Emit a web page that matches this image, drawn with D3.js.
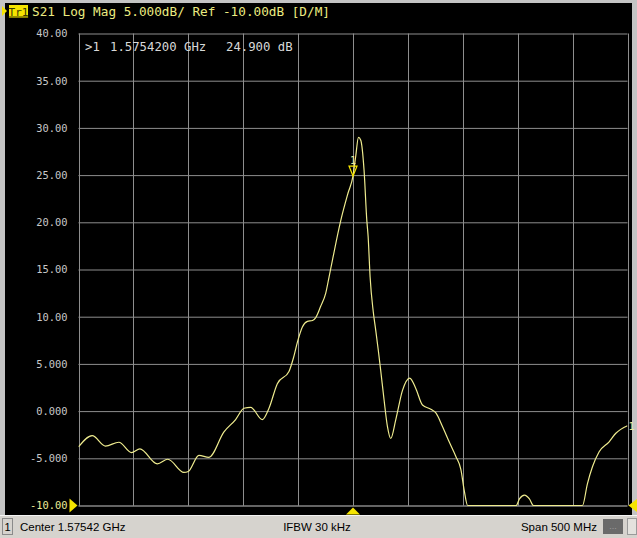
<!DOCTYPE html>
<html>
<head>
<meta charset="utf-8">
<script src="https://cdn.jsdelivr.net/npm/d3@7"></script>
<style>
  html, body { margin: 0; padding: 0; background: #c8c8c8; }
  #chart-area { width: 637px; height: 538px; }
</style>
</head>
<body>
<div id="chart-area"></div>
<script>
// trace S21 : frequency (MHz) / magnitude (dB)
const freqs = [1325.4, 1337.9, 1350.0, 1362.2, 1373.7, 1381.3, 1397.2, 1406.8, 1421.4, 1425.4,
    1435.1, 1444.2, 1457.9, 1468.5, 1476.1, 1482.2, 1492.9, 1498.9, 1506.5, 1517.1,
    1521.1, 1524.8, 1529.3, 1533.9, 1538.5, 1541.5, 1546.0, 1550.6, 1553.6, 1556.7,
    1564.3, 1570.9, 1575.4, 1577.9, 1580.4, 1582.5, 1585.5, 1588.0, 1589.2, 1591.0,
    1593.9, 1596.2, 1598.4, 1600.6, 1603.7, 1606.8, 1609.8, 1614.4, 1620.5, 1627.1,
    1632.6, 1638.7, 1646.3, 1650.9, 1657.0, 1663.0, 1669.1, 1673.7, 1676.7, 1679.8,
    1700.0, 1724.0, 1727.0, 1731.6, 1736.1, 1739.8, 1760.0, 1784.4, 1788.9, 1793.5,
    1799.6, 1808.7, 1814.8, 1825.4];
const s21 = [-3.8, -2.6, -3.7, -3.3, -4.4, -4.0, -5.6, -5.1, -6.5, -6.4,
    -4.7, -4.9, -2.2, -0.9, 0.3, 0.4, -0.9, 0.3, 2.9, 4.2,
    5.6, 7.3, 8.9, 9.5, 9.6, 9.9, 11.1, 12.5, 14.2, 16.0,
    20.2, 23.1, 24.9, 27.0, 29.0, 28.7, 25.5, 20.2, 18.5, 14.2,
    10.5, 8.5, 6.5, 4.35, 1.2, -1.65, -2.9, -0.9, 2.2, 3.5,
    2.4, 0.65, 0.2, -0.2, -1.65, -3.25, -4.8, -6.2, -8.4, -10.0,
    -10.0, -10.0, -9.3, -8.9, -9.3, -10.0, -10.0, -10.0, -7.7, -5.9,
    -4.3, -3.25, -2.35, -1.55];

const yTicks = [40, 35, 30, 25, 20, 15, 10, 5, 0, -5, -10];
const yTickLabels = ["40.00", "35.00", "30.00", "25.00", "20.00", "15.00", "10.00", "5.000", "0.000", "-5.000", "-10.00"];

const centerMHz = 1575.42;
const spanMHz = 500;
const xDivs = 10;
const markerFreq = 1575.42;
const markerVal = 24.9;

const titleText = "S21 Log Mag 5.000dB/ Ref -10.00dB [D/M]";
const markerText = [">1", "1.5754200 GHz", "24.900 dB"];
const statusText = ["Center 1.57542 GHz", "IFBW 30 kHz", "Span 500 MHz"];

const W = 637, H = 538;
const plot = { left: 78.5, right: 627.5, top: 33.5, bottom: 505.5 };

const traceColor = "#eeeb8e";
const yellow = "#f5e400";
const mono = "'DejaVu Sans Mono', 'Liberation Mono', monospace";

const svg = d3.select("#chart-area")
    .append("svg")
    .attr("width", W)
    .attr("height", H);

// frame
svg.append("rect").attr("width", W).attr("height", H).attr("fill", "#c4c4c4");
svg.append("rect").attr("x", 5).attr("y", 3).attr("width", 627).attr("height", 512).attr("fill", "#000");

var x = d3.scaleLinear()
    .domain([centerMHz - spanMHz / 2, centerMHz + spanMHz / 2])
    .range([plot.left, plot.right]);

var y = d3.scaleLinear()
    .domain([-10, 40])
    .range([plot.bottom, plot.top])
    .clamp(true);

// vertical grid
var xGrid = d3.range(0, xDivs + 1).map(i => x.domain()[0] + i * spanMHz / xDivs);
svg.append("g")
    .selectAll("line")
    .data(xGrid)
    .join("line")
    .attr("x1", d => Math.round(x(d)) + 0.5)
    .attr("x2", d => Math.round(x(d)) + 0.5)
    .attr("y1", plot.top)
    .attr("y2", plot.bottom)
    .attr("stroke", "#8e8e8e")
    .attr("stroke-width", 1);

// y axis + horizontal grid
var yAxis = d3.axisLeft(y)
    .tickValues(yTicks)
    .tickSize(-(plot.right - plot.left))
    .tickPadding(11)
    .tickFormat((d, i) => yTickLabels[i]);

var gy = svg.append("g")
    .attr("transform", "translate(" + plot.left + ",0)")
    .call(yAxis);
gy.select(".domain").remove();
gy.selectAll(".tick line")
    .attr("stroke", d => d === -10 ? "#c8c8c8" : "#8e8e8e");
gy.selectAll(".tick text")
    .attr("fill", d => d === -10 ? "#ecec98" : "#c8c8c8")
    .attr("font-family", mono)
    .attr("font-size", "10.4px");

// trace
svg.append("clipPath").attr("id", "plotclip")
    .append("rect")
    .attr("x", plot.left).attr("y", plot.top - 1)
    .attr("width", plot.right - plot.left).attr("height", plot.bottom - plot.top + 2);

var line = d3.line()
    .x((d, i) => x(freqs[i]))
    .y(d => y(d))
    .curve(d3.curveMonotoneX);

svg.append("path")
    .datum(s21)
    .attr("clip-path", "url(#plotclip)")
    .attr("d", line)
    .attr("fill", "none")
    .attr("stroke", traceColor)
    .attr("stroke-width", 1.2);

// marker 1
var mx = x(markerFreq), my = y(markerVal);
svg.append("path")
    .attr("d", "M" + mx + "," + my + " l-4,-10 l8,0 z")
    .attr("fill", "none")
    .attr("stroke", yellow)
    .attr("stroke-width", 1.2);
svg.append("text")
    .attr("x", mx).attr("y", my - 12)
    .attr("text-anchor", "middle")
    .attr("fill", "#ecec98")
    .attr("font-family", mono)
    .attr("font-size", "10px")
    .text("1");

// trace end label
svg.append("text")
    .attr("x", x(freqs[freqs.length - 1]) + 1)
    .attr("y", y(s21[s21.length - 1]) + 4)
    .attr("fill", "#ecec98")
    .attr("font-family", mono)
    .attr("font-size", "10px")
    .text("1");

// marker readout
var mkx = [85, 110, 226];
svg.append("g")
    .selectAll("text")
    .data(markerText)
    .join("text")
    .attr("x", (d, i) => mkx[i])
    .attr("y", 51)
    .attr("fill", "#d8d8d8")
    .attr("font-family", mono)
    .attr("font-size", "12.3px")
    .text(d => d);

// reference / center indicators
svg.append("path")
    .attr("d", "M" + (plot.left - 1) + "," + plot.bottom + " l-8,-7 l0,14 z")
    .attr("fill", yellow);
svg.append("path")
    .attr("d", "M" + (plot.right + 1) + "," + plot.bottom + " l9,-7 l0,14 z")
    .attr("fill", yellow);
svg.append("path")
    .attr("d", "M" + x(centerMHz) + "," + (plot.bottom + 2) + " l-7,7 l14,0 z")
    .attr("fill", yellow);

// title bar
svg.append("path").attr("d", "M2,6 l5,5 l-5,5 z").attr("fill", yellow);
svg.append("rect").attr("x", 9).attr("y", 5).attr("width", 19).attr("height", 13).attr("fill", yellow);
svg.append("text")
    .attr("x", 18.5).attr("y", 15.5)
    .attr("text-anchor", "middle")
    .attr("fill", "#3a3a00")
    .attr("font-family", mono)
    .attr("font-size", "11px")
    .attr("text-decoration", "underline")
    .text("Tr1");
svg.append("text")
    .attr("x", 32).attr("y", 16)
    .attr("fill", "#ecec80")
    .attr("font-family", mono)
    .attr("font-size", "12.7px")
    .text(titleText);

// status bar
svg.append("rect").attr("x", 0).attr("y", 515).attr("width", W).attr("height", 23).attr("fill", "#d6d3ce");
svg.append("line").attr("x1", 0).attr("x2", W).attr("y1", 515.5).attr("y2", 515.5).attr("stroke", "#f4f4f4");
svg.append("rect").attr("x", 2.5).attr("y", 518.5).attr("width", 10).attr("height", 16)
    .attr("fill", "#d6d3ce").attr("stroke", "#8a8a8a");
svg.append("text").attr("x", 7.5).attr("y", 531).attr("text-anchor", "middle")
    .attr("font-family", "'Liberation Sans', Arial, sans-serif").attr("font-size", "11px").attr("fill", "#000").text("1");

var sx = [20, 317, 597];
var sa = ["start", "middle", "end"];
svg.append("g")
    .selectAll("text")
    .data(statusText)
    .join("text")
    .attr("x", (d, i) => sx[i])
    .attr("y", 531)
    .attr("text-anchor", (d, i) => sa[i])
    .attr("font-family", "'Liberation Sans', Arial, sans-serif")
    .attr("font-size", "11.5px")
    .attr("fill", "#000")
    .text(d => d);

svg.append("rect").attr("x", 603).attr("y", 519).attr("width", 20).attr("height", 15).attr("fill", "#6a6a6a");
svg.append("text").attr("x", 613).attr("y", 529).attr("text-anchor", "middle")
    .attr("font-family", "'Liberation Sans', Arial, sans-serif").attr("font-size", "9px").attr("fill", "#9a9a9a").text("...");
svg.append("rect").attr("x", 627.5).attr("y", 518.5).attr("width", 9).attr("height", 16)
    .attr("fill", "#e4e2de").attr("stroke", "#9a9a9a");
</script>
</body>
</html>
